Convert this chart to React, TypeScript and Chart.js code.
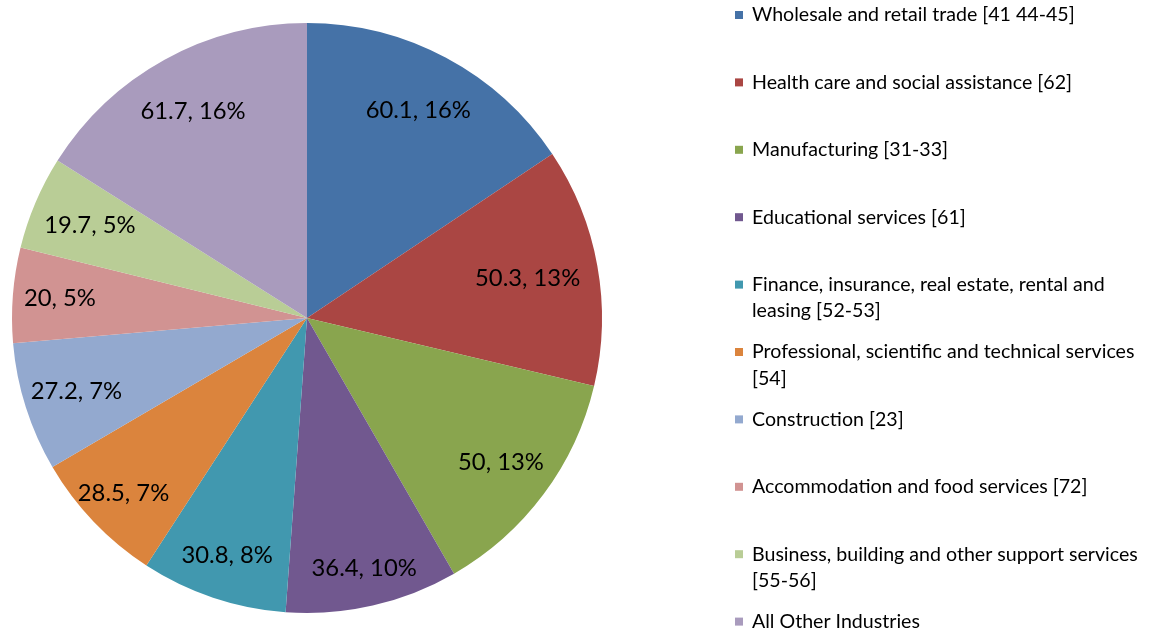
import React, { useEffect, useRef } from "react";
import { Chart, registerables } from "chart.js";

Chart.register(...registerables);

const categories: string[] = [
  "Wholesale and retail trade [41 44-45]",
  "Health care and social assistance [62]",
  "Manufacturing [31-33]",
  "Educational services [61]",
  "Finance, insurance, real estate, rental and leasing [52-53]",
  "Professional, scientific and technical services [54]",
  "Construction [23]",
  "Accommodation and food services [72]",
  "Business, building and other support services [55-56]",
  "All Other Industries",
];

const values: number[] = [60.1, 50.3, 50, 36.4, 30.8, 28.5, 27.2, 20, 19.7, 61.7];

const percents: number[] = [16, 13, 13, 10, 8, 7, 7, 5, 5, 16];

const colors: string[] = [
  "#4572A7",
  "#AA4643",
  "#89A54E",
  "#71588F",
  "#4198AF",
  "#DB843D",
  "#93A9CF",
  "#D19392",
  "#B9CD96",
  "#A99BBD",
];

// label placement (fraction of radius) – styling only
const labelRadius: number[] = [0.8, 0.76, 0.82, 0.87, 0.85, 0.86, 0.82, 0.84, 0.8, 0.8];

const FONT = "Lato, 'Open Sans', sans-serif";

export default function App() {
  const ref = useRef<HTMLCanvasElement>(null);

  useEffect(() => {
    if (!ref.current) return;

    const dataLabels = {
      id: "dataLabels",
      afterDatasetsDraw(chart: any) {
        const ctx = chart.ctx;
        const meta = chart.getDatasetMeta(0);
        ctx.save();
        ctx.font = `23.8px ${FONT}`;
        ctx.fillStyle = "#000";
        ctx.textAlign = "center";
        ctx.textBaseline = "middle";
        meta.data.forEach((arc: any, i: number) => {
          const p = arc.getProps(["x", "y", "startAngle", "endAngle", "outerRadius"], true);
          const mid = (p.startAngle + p.endAngle) / 2;
          const r = p.outerRadius * labelRadius[i];
          const tx = p.x + Math.cos(mid) * r;
          const ty = p.y + Math.sin(mid) * r;
          ctx.fillText(`${values[i]}, ${percents[i]}%`, tx, ty);
        });
        ctx.restore();
      },
    };

    const sideLegend = {
      id: "sideLegend",
      afterDraw(chart: any) {
        const ctx = chart.ctx;
        ctx.save();
        ctx.font = `19.6px ${FONT}`;
        ctx.textBaseline = "middle";
        ctx.textAlign = "left";
        const x0 = 752;
        const y0 = 15;
        const step = 67.4;
        const lh = 26.5;
        const maxW = 400;
        categories.forEach((label, i) => {
          const y = y0 + i * step;
          ctx.fillStyle = colors[i];
          ctx.fillRect(735, y - 4, 8, 8);
          const words = label.split(" ");
          const lines: string[] = [];
          let cur = "";
          for (const w of words) {
            const t = cur ? cur + " " + w : w;
            if (cur && ctx.measureText(t).width > maxW) {
              lines.push(cur);
              cur = w;
            } else {
              cur = t;
            }
          }
          lines.push(cur);
          ctx.fillStyle = "#000";
          lines.forEach((l, j) => ctx.fillText(l, x0, y + j * lh));
        });
        ctx.restore();
      },
    };

    const chart = new Chart(ref.current, {
      type: "pie",
      data: {
        labels: categories,
        datasets: [
          {
            data: values,
            backgroundColor: colors,
            borderWidth: 0,
          },
        ],
      },
      options: {
        animation: false,
        responsive: false,
        maintainAspectRatio: false,
        layout: { padding: { left: 12, right: 558, top: 23, bottom: 20 } },
        plugins: {
          legend: { display: false },
          tooltip: { enabled: false },
        },
      },
      plugins: [dataLabels, sideLegend],
    });

    return () => chart.destroy();
  }, []);

  return (
    <div style={{ position: "fixed", left: 0, top: 0, width: 1160, height: 633, background: "#fff" }}>
      <canvas ref={ref} width={1160} height={633} style={{ width: 1160, height: 633, display: "block" }} />
    </div>
  );
}
